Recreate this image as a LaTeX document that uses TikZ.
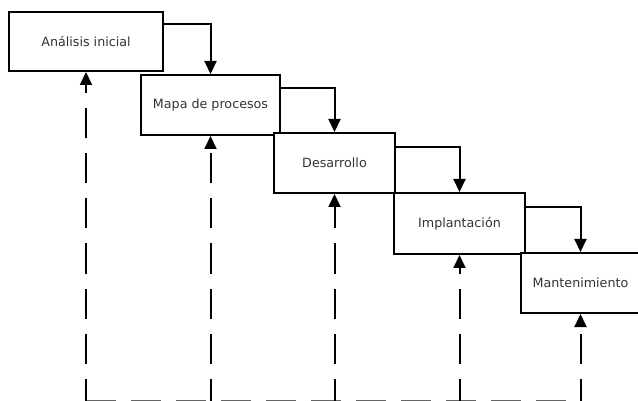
\documentclass[tikz,border=0pt]{standalone}
\usepackage{fontspec}
\setmainfont{DejaVu Sans}
\usetikzlibrary{arrows.meta}
\begin{document}
\begin{tikzpicture}[x=1pt,y=-1pt,
  stagebox/.style={draw=black, fill=white, line width=2pt, rectangle, inner sep=0pt,
    font=\fontsize{12.7}{15}\selectfont, text=black!80},
  flow/.style={line width=2pt, -{Triangle[width=12pt,length=13pt]}},
  feedback/.style={line width=2pt, dash pattern=on 30pt off 15pt, dash phase=8pt,
    -{Triangle[width=12pt,length=13pt]}},
  baseline/.style={line width=2pt, draw=black!60, dash pattern=on 30pt off 15pt}]
\useasboundingbox (0,0) rectangle (638,401);
\fill[white] (0,0) rectangle (638,401);

\node[stagebox, minimum width=154pt, minimum height=59pt] (a) at (86,41.5) {Análisis inicial};
\node[stagebox, minimum width=139pt, minimum height=60pt] (b) at (210.5,105) {Mapa de procesos};
\node[stagebox, minimum width=121pt, minimum height=60pt] (c) at (334.5,163) {Desarrollo};
\node[stagebox, minimum width=131pt, minimum height=61pt] (d) at (459.5,223.5) {Implantación};
\node[stagebox, minimum width=119pt, minimum height=60pt] (e) at (580.5,283) {Mantenimiento};

\draw[flow] ([yshift=-13pt]a.north east) -| (b.north);
\draw[flow] ([yshift=-14pt]b.north east) -| (c.north);
\draw[flow] ([yshift=-15pt]c.north east) -| (d.north);
\draw[flow] ([yshift=-15pt]d.north east) -| (e.north);

\coordinate (fa) at (86,400.5);
\coordinate (fb) at (210.5,400.5);
\coordinate (fc) at (334.5,400.5);
\coordinate (fd) at (459.5,400.5);
\coordinate (fe) at (580.5,400.5);

\draw[baseline] (fa) -- (fe);
\draw[feedback] (fa) -- (a.south);
\draw[feedback] (fb) -- (b.south);
\draw[feedback] (fc) -- (c.south);
\draw[feedback] (fd) -- (d.south);
\draw[feedback] (fe) -- (e.south);
\end{tikzpicture}
\end{document}
